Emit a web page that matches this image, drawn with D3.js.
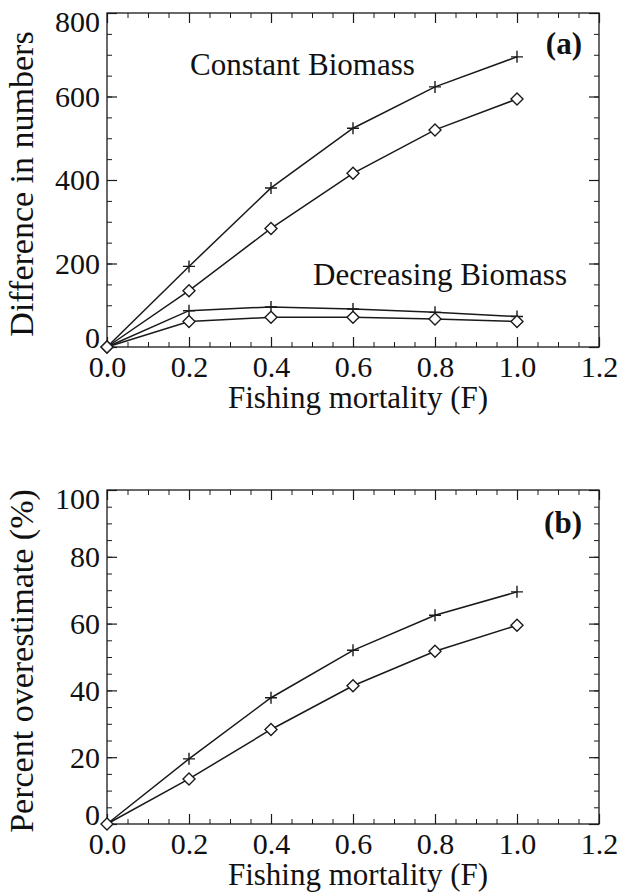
<!DOCTYPE html>
<html>
<head>
<meta charset="utf-8">
<script src="https://cdn.jsdelivr.net/npm/d3@7"></script>
<style>
  html, body { margin: 0; padding: 0; background: #fff; }
  svg { display: block; }
  text { font-family: "Liberation Serif", "Times New Roman", Times, "DejaVu Serif", serif; }
</style>
</head>
<body>
<svg id="chart" width="621" height="892"></svg>
<script>
// fishing mortality values on the x axis
const fValues = [0, 0.2, 0.4, 0.6, 0.8, 1.0];
const xTicks = [0, 0.2, 0.4, 0.6, 0.8, 1.0, 1.2];

// panel (a): difference in numbers
const constantPlus = [0, 193, 381, 524, 623, 695];
const constantDiamond = [0, 135, 284, 416, 520, 594];
const decreasingPlus = [0, 87, 96, 91, 83, 73];
const decreasingDiamond = [0, 61, 71, 71, 67, 61];
const yTicksA = [0, 200, 400, 600, 800];

// panel (b): percent overestimate
const percentPlus = [0, 19.5, 37.8, 52, 62.5, 69.5];
const percentDiamond = [0, 13.5, 28.3, 41.4, 51.7, 59.5];
const yTicksB = [0, 20, 40, 60, 80, 100];

const svg = d3.select("#chart");
const ink = "#1a1a1a";
const textInk = "#111";
const serif = '"Liberation Serif", "Times New Roman", Times, "DejaVu Serif", serif';

function drawPanel(opts) {
  const left = 107, right = 599, top = opts.top, height = 334;
  const width = right - left;
  const g = svg.append("g").attr("transform", `translate(${left},${top})`);

  const x = d3.scaleLinear().domain([0, 1.2]).range([0, width]);
  const y = d3.scaleLinear().domain([0, opts.yMax]).range([height, 0]);

  const xMinor = d3.range(0, 1.2001, 0.05);
  const yMinor = d3.range(0, opts.yMax + 0.001, opts.yMinorStep);

  // frame
  g.append("rect")
    .attr("width", width).attr("height", height)
    .attr("fill", "none").attr("stroke", ink).attr("stroke-width", 1.3);

  // minor ticks on all four sides
  const minorAxes = [
    [d3.axisBottom(x).tickValues(xMinor), `translate(0,${height})`],
    [d3.axisTop(x).tickValues(xMinor), null],
    [d3.axisLeft(y).tickValues(yMinor), null],
    [d3.axisRight(y).tickValues(yMinor), `translate(${width},0)`],
  ];
  minorAxes.forEach(([ax, tr]) => {
    const a = g.append("g").attr("transform", tr)
      .call(ax.tickSize(-5).tickFormat(""));
    a.select(".domain").remove();
    a.selectAll("line").attr("stroke", ink).attr("stroke-width", 1);
  });

  // major ticks, labelled on bottom and left only
  const xAxis = g.append("g").attr("transform", `translate(0,${height})`)
    .call(d3.axisBottom(x).tickValues(xTicks).tickSize(-10).tickFormat(d3.format(".1f")));
  const xTop = g.append("g")
    .call(d3.axisTop(x).tickValues(xTicks).tickSize(-10).tickFormat(""));
  const yAxis = g.append("g")
    .call(d3.axisLeft(y).tickValues(opts.yTicks).tickSize(-10).tickPadding(7));
  const yRight = g.append("g").attr("transform", `translate(${width},0)`)
    .call(d3.axisRight(y).tickValues(opts.yTicks).tickSize(-10).tickFormat(""));

  [xAxis, xTop, yAxis, yRight].forEach((a) => {
    a.attr("font-family", null).attr("font-size", null);
    a.select(".domain").remove();
    a.selectAll("line").attr("stroke", ink).attr("stroke-width", 1.2);
  });

  xAxis.selectAll("text")
    .attr("y", 30).attr("dy", null)
    .attr("fill", textInk)
    .style("font-family", serif).style("font-size", "30px");
  yAxis.selectAll("text")
    .attr("fill", textInk)
    .style("font-family", serif).style("font-size", "30px")
    .attr("dy", (d) => d === 0 ? "0.02em" : d === opts.yMax ? "0.63em" : "0.33em");

  // series
  const line = d3.line().x((d, i) => x(fValues[i])).y((d) => y(d));
  opts.series.forEach((s) => {
    g.append("path")
      .datum(s.values)
      .attr("d", line)
      .attr("fill", "none")
      .attr("stroke", ink)
      .attr("stroke-width", 1.5);

    const marks = g.selectAll(null)
      .data(s.values)
      .join("path")
      .attr("transform", (d, i) => `translate(${x(fValues[i])},${y(d)})`)
      .attr("stroke", ink)
      .attr("stroke-width", 1.4);
    if (s.marker === "plus") {
      marks.attr("d", "M-6,0H6M0,-6V6").attr("fill", "none");
    } else {
      marks.attr("d", "M0,-6L6,0L0,6L-6,0Z").attr("fill", "#fff");
    }
  });

  // axis titles
  g.append("text")
    .attr("x", width / 2 + 5).attr("y", height + 61)
    .attr("text-anchor", "middle").attr("fill", textInk)
    .style("font-family", serif).style("font-size", "31px")
    .text("Fishing mortality (F)");
  g.append("text")
    .attr("transform", `translate(${33 - left},${height / 2 + 4}) rotate(-90)`)
    .attr("text-anchor", "middle").attr("fill", textInk)
    .style("font-family", serif).style("font-size", "34px")
    .text(opts.yTitle);

  // panel letter
  g.append("text")
    .attr("x", 582 - left).attr("y", opts.letterY)
    .attr("text-anchor", "end").attr("fill", textInk)
    .style("font-family", serif).style("font-size", "31px").style("font-weight", "bold")
    .text(opts.letter);

  (opts.notes || []).forEach((n) => {
    g.append("text")
      .attr("x", n.x - left).attr("y", n.y - top)
      .attr("fill", textInk)
      .style("font-family", serif).style("font-size", "31px")
      .text(n.text);
  });
}

drawPanel({
  top: 13,
  yMax: 800,
  yMinorStep: 50,
  yTicks: yTicksA,
  yTitle: "Difference in numbers",
  letter: "(a)",
  letterY: 41,
  series: [
    { values: constantPlus, marker: "plus" },
    { values: constantDiamond, marker: "diamond" },
    { values: decreasingPlus, marker: "plus" },
    { values: decreasingDiamond, marker: "diamond" },
  ],
  notes: [
    { text: "Constant Biomass", x: 190, y: 75 },
    { text: "Decreasing Biomass", x: 313, y: 285 },
  ],
});

drawPanel({
  top: 490,
  yMax: 100,
  yMinorStep: 5,
  yTicks: yTicksB,
  yTitle: "Percent overestimate (%)",
  letter: "(b)",
  letterY: 43,
  series: [
    { values: percentPlus, marker: "plus" },
    { values: percentDiamond, marker: "diamond" },
  ],
});
</script>
</body>
</html>
